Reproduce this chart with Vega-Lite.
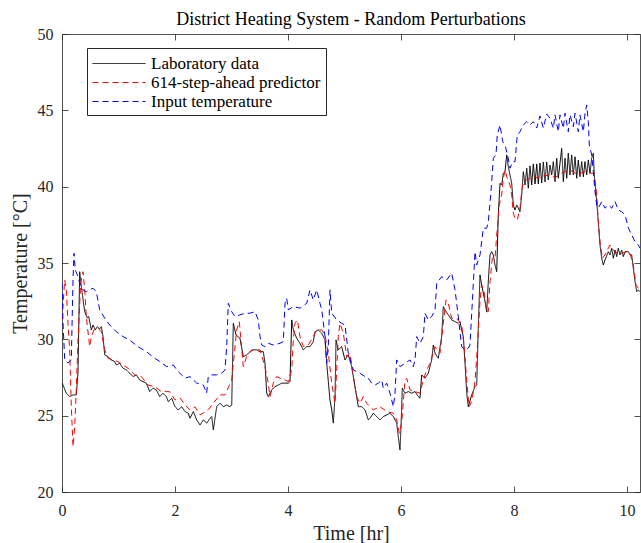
{
"$schema":"https://vega.github.io/schema/vega-lite/v6.json",
"width":578,"height":458,
"autosize":{"type":"none"},
"padding":{"left":62,"top":34,"right":1,"bottom":51},
"background":"white",
"config":{"font":"Liberation Serif","view":{"stroke":null},
 "axis":{"grid":false,"domainColor":"#262626","tickColor":"#262626","labelColor":"#262626","titleColor":"#262626","labelFont":"Liberation Serif","titleFont":"Liberation Serif","titleFontWeight":"normal","labelFontSize":16,"titleFontSize":20,"labelFlush":false,"domainWidth":0.8,"tickWidth":0.8}},
"title":{"text":"District Heating System - Random Perturbations","fontSize":18,"fontWeight":"normal","color":"#000000","font":"Liberation Serif","offset":-3,"anchor":"middle"},
"datasets":{"d":[
{"s":"Laboratory data","t":0,"v":27.14},{"s":"Laboratory data","t":0.018,"v":27.01},{"s":"Laboratory data","t":0.076,"v":26.47},{"s":"Laboratory data","t":0.136,"v":26.25},{"s":"Laboratory data","t":0.195,"v":26.36},{"s":"Laboratory data","t":0.253,"v":26.36},{"s":"Laboratory data","t":0.283,"v":27.8},{"s":"Laboratory data","t":0.313,"v":34.43},{"s":"Laboratory data","t":0.342,"v":33.45},{"s":"Laboratory data","t":0.402,"v":31.81},{"s":"Laboratory data","t":0.448,"v":31.4},{"s":"Laboratory data","t":0.473,"v":31.49},{"s":"Laboratory data","t":0.519,"v":30.62},{"s":"Laboratory data","t":0.549,"v":30.94},{"s":"Laboratory data","t":0.589,"v":30.62},{"s":"Laboratory data","t":0.625,"v":30.83},{"s":"Laboratory data","t":0.667,"v":30.68},{"s":"Laboratory data","t":0.696,"v":30.83},{"s":"Laboratory data","t":0.726,"v":30.18},{"s":"Laboratory data","t":0.756,"v":28.98},{"s":"Laboratory data","t":0.814,"v":28.87},{"s":"Laboratory data","t":0.873,"v":28.65},{"s":"Laboratory data","t":0.933,"v":28.54},{"s":"Laboratory data","t":0.961,"v":28.32},{"s":"Laboratory data","t":1.021,"v":28.43},{"s":"Laboratory data","t":1.08,"v":28.11},{"s":"Laboratory data","t":1.138,"v":28.0},{"s":"Laboratory data","t":1.198,"v":27.78},{"s":"Laboratory data","t":1.257,"v":27.56},{"s":"Laboratory data","t":1.315,"v":27.67},{"s":"Laboratory data","t":1.375,"v":27.34},{"s":"Laboratory data","t":1.434,"v":27.23},{"s":"Laboratory data","t":1.492,"v":27.13},{"s":"Laboratory data","t":1.552,"v":26.58},{"s":"Laboratory data","t":1.611,"v":26.8},{"s":"Laboratory data","t":1.669,"v":26.69},{"s":"Laboratory data","t":1.729,"v":26.25},{"s":"Laboratory data","t":1.788,"v":26.47},{"s":"Laboratory data","t":1.846,"v":26.25},{"s":"Laboratory data","t":1.881,"v":25.92},{"s":"Laboratory data","t":1.942,"v":26.14},{"s":"Laboratory data","t":2.0,"v":25.59},{"s":"Laboratory data","t":2.058,"v":25.38},{"s":"Laboratory data","t":2.119,"v":25.59},{"s":"Laboratory data","t":2.177,"v":25.27},{"s":"Laboratory data","t":2.235,"v":25.16},{"s":"Laboratory data","t":2.266,"v":24.83},{"s":"Laboratory data","t":2.324,"v":25.27},{"s":"Laboratory data","t":2.384,"v":24.72},{"s":"Laboratory data","t":2.443,"v":24.39},{"s":"Laboratory data","t":2.501,"v":24.72},{"s":"Laboratory data","t":2.561,"v":24.51},{"s":"Laboratory data","t":2.62,"v":24.83},{"s":"Laboratory data","t":2.65,"v":24.94},{"s":"Laboratory data","t":2.678,"v":24.07},{"s":"Laboratory data","t":2.738,"v":25.59},{"s":"Laboratory data","t":2.797,"v":25.82},{"s":"Laboratory data","t":2.855,"v":25.59},{"s":"Laboratory data","t":2.915,"v":25.7},{"s":"Laboratory data","t":2.974,"v":25.59},{"s":"Laboratory data","t":3.004,"v":25.7},{"s":"Laboratory data","t":3.032,"v":31.05},{"s":"Laboratory data","t":3.08,"v":30.29},{"s":"Laboratory data","t":3.15,"v":30.07},{"s":"Laboratory data","t":3.209,"v":28.87},{"s":"Laboratory data","t":3.269,"v":28.98},{"s":"Laboratory data","t":3.327,"v":29.19},{"s":"Laboratory data","t":3.386,"v":29.31},{"s":"Laboratory data","t":3.446,"v":29.31},{"s":"Laboratory data","t":3.504,"v":29.19},{"s":"Laboratory data","t":3.563,"v":29.19},{"s":"Laboratory data","t":3.593,"v":28.43},{"s":"Laboratory data","t":3.623,"v":26.47},{"s":"Laboratory data","t":3.651,"v":26.25},{"s":"Laboratory data","t":3.712,"v":26.69},{"s":"Laboratory data","t":3.77,"v":26.9},{"s":"Laboratory data","t":3.828,"v":27.01},{"s":"Laboratory data","t":3.889,"v":27.13},{"s":"Laboratory data","t":3.947,"v":27.13},{"s":"Laboratory data","t":4.005,"v":27.13},{"s":"Laboratory data","t":4.035,"v":27.23},{"s":"Laboratory data","t":4.066,"v":31.27},{"s":"Laboratory data","t":4.094,"v":30.62},{"s":"Laboratory data","t":4.154,"v":30.07},{"s":"Laboratory data","t":4.212,"v":29.74},{"s":"Laboratory data","t":4.271,"v":29.31},{"s":"Laboratory data","t":4.331,"v":29.52},{"s":"Laboratory data","t":4.389,"v":29.52},{"s":"Laboratory data","t":4.448,"v":29.85},{"s":"Laboratory data","t":4.478,"v":30.5},{"s":"Laboratory data","t":4.536,"v":30.62},{"s":"Laboratory data","t":4.597,"v":30.4},{"s":"Laboratory data","t":4.655,"v":29.96},{"s":"Laboratory data","t":4.685,"v":28.43},{"s":"Laboratory data","t":4.743,"v":26.03},{"s":"Laboratory data","t":4.774,"v":25.38},{"s":"Laboratory data","t":4.802,"v":24.51},{"s":"Laboratory data","t":4.832,"v":26.25},{"s":"Laboratory data","t":4.85,"v":29.96},{"s":"Laboratory data","t":4.89,"v":29.31},{"s":"Laboratory data","t":4.95,"v":29.52},{"s":"Laboratory data","t":5.009,"v":28.65},{"s":"Laboratory data","t":5.067,"v":28.98},{"s":"Laboratory data","t":5.127,"v":28.21},{"s":"Laboratory data","t":5.186,"v":26.9},{"s":"Laboratory data","t":5.244,"v":25.59},{"s":"Laboratory data","t":5.304,"v":25.59},{"s":"Laboratory data","t":5.363,"v":25.38},{"s":"Laboratory data","t":5.421,"v":24.72},{"s":"Laboratory data","t":5.451,"v":24.83},{"s":"Laboratory data","t":5.51,"v":25.16},{"s":"Laboratory data","t":5.57,"v":24.94},{"s":"Laboratory data","t":5.628,"v":24.72},{"s":"Laboratory data","t":5.687,"v":24.94},{"s":"Laboratory data","t":5.747,"v":25.05},{"s":"Laboratory data","t":5.805,"v":25.16},{"s":"Laboratory data","t":5.864,"v":24.94},{"s":"Laboratory data","t":5.924,"v":24.51},{"s":"Laboratory data","t":5.952,"v":23.63},{"s":"Laboratory data","t":5.982,"v":22.76},{"s":"Laboratory data","t":6.0,"v":24.28},{"s":"Laboratory data","t":6.023,"v":26.8},{"s":"Laboratory data","t":6.071,"v":26.47},{"s":"Laboratory data","t":6.129,"v":26.58},{"s":"Laboratory data","t":6.189,"v":26.47},{"s":"Laboratory data","t":6.248,"v":26.58},{"s":"Laboratory data","t":6.306,"v":26.25},{"s":"Laboratory data","t":6.336,"v":26.14},{"s":"Laboratory data","t":6.366,"v":27.67},{"s":"Laboratory data","t":6.425,"v":27.45},{"s":"Laboratory data","t":6.483,"v":27.78},{"s":"Laboratory data","t":6.543,"v":28.65},{"s":"Laboratory data","t":6.572,"v":29.63},{"s":"Laboratory data","t":6.602,"v":29.09},{"s":"Laboratory data","t":6.66,"v":28.76},{"s":"Laboratory data","t":6.72,"v":30.18},{"s":"Laboratory data","t":6.749,"v":32.14},{"s":"Laboratory data","t":6.779,"v":31.93},{"s":"Laboratory data","t":6.837,"v":31.6},{"s":"Laboratory data","t":6.897,"v":31.27},{"s":"Laboratory data","t":6.956,"v":31.16},{"s":"Laboratory data","t":7.014,"v":31.05},{"s":"Laboratory data","t":7.044,"v":31.16},{"s":"Laboratory data","t":7.074,"v":30.62},{"s":"Laboratory data","t":7.103,"v":30.18},{"s":"Laboratory data","t":7.133,"v":28.43},{"s":"Laboratory data","t":7.163,"v":26.47},{"s":"Laboratory data","t":7.191,"v":25.59},{"s":"Laboratory data","t":7.251,"v":26.36},{"s":"Laboratory data","t":7.31,"v":26.9},{"s":"Laboratory data","t":7.34,"v":27.01},{"s":"Laboratory data","t":7.368,"v":30.73},{"s":"Laboratory data","t":7.398,"v":34.22},{"s":"Laboratory data","t":7.428,"v":33.56},{"s":"Laboratory data","t":7.487,"v":32.47},{"s":"Laboratory data","t":7.517,"v":31.81},{"s":"Laboratory data","t":7.545,"v":33.78},{"s":"Laboratory data","t":7.575,"v":35.53},{"s":"Laboratory data","t":7.605,"v":35.74},{"s":"Laboratory data","t":7.634,"v":35.53},{"s":"Laboratory data","t":7.664,"v":34.87},{"s":"Laboratory data","t":7.694,"v":34.43},{"s":"Laboratory data","t":7.722,"v":38.15},{"s":"Laboratory data","t":7.752,"v":40.22},{"s":"Laboratory data","t":7.782,"v":40.11},{"s":"Laboratory data","t":7.811,"v":40.88},{"s":"Laboratory data","t":7.841,"v":40.98},{"s":"Laboratory data","t":7.871,"v":42.08},{"s":"Laboratory data","t":7.899,"v":41.31},{"s":"Laboratory data","t":7.929,"v":40.77},{"s":"Laboratory data","t":7.959,"v":40.22},{"s":"Laboratory data","t":7.988,"v":38.8},{"s":"Laboratory data","t":8.018,"v":38.47},{"s":"Laboratory data","t":8.048,"v":38.8},{"s":"Laboratory data","t":8.076,"v":38.59},{"s":"Laboratory data","t":8.106,"v":38.36},{"s":"Laboratory data","t":8.136,"v":39.46},{"s":"Laboratory data","t":8.165,"v":40.98},{"s":"Laboratory data","t":8.195,"v":40.11},{"s":"Laboratory data","t":8.225,"v":41.21},{"s":"Laboratory data","t":8.253,"v":39.9},{"s":"Laboratory data","t":8.283,"v":41.36},{"s":"Laboratory data","t":8.313,"v":40.11},{"s":"Laboratory data","t":8.342,"v":41.49},{"s":"Laboratory data","t":8.372,"v":40.18},{"s":"Laboratory data","t":8.402,"v":41.49},{"s":"Laboratory data","t":8.43,"v":40.18},{"s":"Laboratory data","t":8.46,"v":41.55},{"s":"Laboratory data","t":8.49,"v":40.24},{"s":"Laboratory data","t":8.519,"v":41.62},{"s":"Laboratory data","t":8.549,"v":40.31},{"s":"Laboratory data","t":8.579,"v":41.62},{"s":"Laboratory data","t":8.607,"v":40.44},{"s":"Laboratory data","t":8.637,"v":41.42},{"s":"Laboratory data","t":8.667,"v":40.77},{"s":"Laboratory data","t":8.696,"v":41.64},{"s":"Laboratory data","t":8.726,"v":40.33},{"s":"Laboratory data","t":8.756,"v":41.86},{"s":"Laboratory data","t":8.784,"v":40.55},{"s":"Laboratory data","t":8.844,"v":42.51},{"s":"Laboratory data","t":8.873,"v":40.33},{"s":"Laboratory data","t":8.903,"v":41.86},{"s":"Laboratory data","t":8.933,"v":40.55},{"s":"Laboratory data","t":8.961,"v":42.19},{"s":"Laboratory data","t":8.991,"v":40.77},{"s":"Laboratory data","t":9.021,"v":42.08},{"s":"Laboratory data","t":9.05,"v":40.77},{"s":"Laboratory data","t":9.08,"v":41.96},{"s":"Laboratory data","t":9.11,"v":40.55},{"s":"Laboratory data","t":9.138,"v":41.75},{"s":"Laboratory data","t":9.168,"v":40.65},{"s":"Laboratory data","t":9.198,"v":41.64},{"s":"Laboratory data","t":9.227,"v":40.65},{"s":"Laboratory data","t":9.257,"v":41.64},{"s":"Laboratory data","t":9.287,"v":40.77},{"s":"Laboratory data","t":9.315,"v":41.75},{"s":"Laboratory data","t":9.345,"v":40.88},{"s":"Laboratory data","t":9.375,"v":41.86},{"s":"Laboratory data","t":9.404,"v":42.19},{"s":"Laboratory data","t":9.421,"v":40.77},{"s":"Laboratory data","t":9.464,"v":39.02},{"s":"Laboratory data","t":9.492,"v":37.71},{"s":"Laboratory data","t":9.522,"v":36.18},{"s":"Laboratory data","t":9.552,"v":35.31},{"s":"Laboratory data","t":9.581,"v":34.87},{"s":"Laboratory data","t":9.611,"v":35.2},{"s":"Laboratory data","t":9.669,"v":35.74},{"s":"Laboratory data","t":9.699,"v":35.53},{"s":"Laboratory data","t":9.729,"v":35.97},{"s":"Laboratory data","t":9.758,"v":35.31},{"s":"Laboratory data","t":9.788,"v":35.85},{"s":"Laboratory data","t":9.818,"v":35.42},{"s":"Laboratory data","t":9.846,"v":35.97},{"s":"Laboratory data","t":9.876,"v":35.53},{"s":"Laboratory data","t":9.906,"v":35.85},{"s":"Laboratory data","t":9.935,"v":35.42},{"s":"Laboratory data","t":9.965,"v":35.74},{"s":"Laboratory data","t":10.025,"v":35.74},{"s":"Laboratory data","t":10.053,"v":35.53},{"s":"Laboratory data","t":10.083,"v":35.53},{"s":"Laboratory data","t":10.112,"v":34.66},{"s":"Laboratory data","t":10.142,"v":33.78},{"s":"Laboratory data","t":10.172,"v":33.12},{"s":"Laboratory data","t":10.2,"v":33.24},{"s":"Laboratory data","t":10.23,"v":33.12},
{"s":"614-step-ahead predictor","t":0,"v":31.27},{"s":"614-step-ahead predictor","t":0.048,"v":33.89},{"s":"614-step-ahead predictor","t":0.076,"v":33.24},{"s":"614-step-ahead predictor","t":0.106,"v":31.07},{"s":"614-step-ahead predictor","t":0.136,"v":29.31},{"s":"614-step-ahead predictor","t":0.165,"v":25.59},{"s":"614-step-ahead predictor","t":0.195,"v":22.97},{"s":"614-step-ahead predictor","t":0.225,"v":24.28},{"s":"614-step-ahead predictor","t":0.253,"v":26.69},{"s":"614-step-ahead predictor","t":0.283,"v":29.96},{"s":"614-step-ahead predictor","t":0.331,"v":33.69},{"s":"614-step-ahead predictor","t":0.372,"v":34.43},{"s":"614-step-ahead predictor","t":0.402,"v":33.24},{"s":"614-step-ahead predictor","t":0.43,"v":31.49},{"s":"614-step-ahead predictor","t":0.49,"v":29.52},{"s":"614-step-ahead predictor","t":0.519,"v":30.18},{"s":"614-step-ahead predictor","t":0.566,"v":30.62},{"s":"614-step-ahead predictor","t":0.637,"v":30.73},{"s":"614-step-ahead predictor","t":0.696,"v":30.5},{"s":"614-step-ahead predictor","t":0.756,"v":29.31},{"s":"614-step-ahead predictor","t":0.814,"v":28.76},{"s":"614-step-ahead predictor","t":0.903,"v":28.65},{"s":"614-step-ahead predictor","t":0.991,"v":28.54},{"s":"614-step-ahead predictor","t":1.08,"v":28.32},{"s":"614-step-ahead predictor","t":1.168,"v":28.11},{"s":"614-step-ahead predictor","t":1.287,"v":27.67},{"s":"614-step-ahead predictor","t":1.404,"v":27.56},{"s":"614-step-ahead predictor","t":1.522,"v":27.01},{"s":"614-step-ahead predictor","t":1.641,"v":26.9},{"s":"614-step-ahead predictor","t":1.758,"v":26.58},{"s":"614-step-ahead predictor","t":1.846,"v":26.58},{"s":"614-step-ahead predictor","t":1.912,"v":26.56},{"s":"614-step-ahead predictor","t":2.0,"v":26.03},{"s":"614-step-ahead predictor","t":2.089,"v":26.16},{"s":"614-step-ahead predictor","t":2.177,"v":25.7},{"s":"614-step-ahead predictor","t":2.266,"v":25.38},{"s":"614-step-ahead predictor","t":2.354,"v":25.57},{"s":"614-step-ahead predictor","t":2.443,"v":25.05},{"s":"614-step-ahead predictor","t":2.531,"v":25.24},{"s":"614-step-ahead predictor","t":2.62,"v":25.51},{"s":"614-step-ahead predictor","t":2.673,"v":25.83},{"s":"614-step-ahead predictor","t":2.726,"v":26.03},{"s":"614-step-ahead predictor","t":2.797,"v":26.36},{"s":"614-step-ahead predictor","t":2.885,"v":26.36},{"s":"614-step-ahead predictor","t":3.004,"v":27.34},{"s":"614-step-ahead predictor","t":3.092,"v":30.62},{"s":"614-step-ahead predictor","t":3.138,"v":31.16},{"s":"614-step-ahead predictor","t":3.209,"v":28.21},{"s":"614-step-ahead predictor","t":3.269,"v":28.87},{"s":"614-step-ahead predictor","t":3.358,"v":29.31},{"s":"614-step-ahead predictor","t":3.504,"v":29.31},{"s":"614-step-ahead predictor","t":3.593,"v":28.21},{"s":"614-step-ahead predictor","t":3.651,"v":27.13},{"s":"614-step-ahead predictor","t":3.681,"v":26.25},{"s":"614-step-ahead predictor","t":3.74,"v":27.13},{"s":"614-step-ahead predictor","t":3.8,"v":27.56},{"s":"614-step-ahead predictor","t":3.858,"v":27.45},{"s":"614-step-ahead predictor","t":3.947,"v":27.34},{"s":"614-step-ahead predictor","t":4.005,"v":27.23},{"s":"614-step-ahead predictor","t":4.066,"v":28.0},{"s":"614-step-ahead predictor","t":4.094,"v":29.96},{"s":"614-step-ahead predictor","t":4.124,"v":31.05},{"s":"614-step-ahead predictor","t":4.165,"v":31.27},{"s":"614-step-ahead predictor","t":4.212,"v":30.18},{"s":"614-step-ahead predictor","t":4.271,"v":29.52},{"s":"614-step-ahead predictor","t":4.359,"v":29.63},{"s":"614-step-ahead predictor","t":4.448,"v":30.18},{"s":"614-step-ahead predictor","t":4.508,"v":30.62},{"s":"614-step-ahead predictor","t":4.597,"v":30.62},{"s":"614-step-ahead predictor","t":4.655,"v":30.29},{"s":"614-step-ahead predictor","t":4.713,"v":29.09},{"s":"614-step-ahead predictor","t":4.774,"v":27.13},{"s":"614-step-ahead predictor","t":4.832,"v":25.81},{"s":"614-step-ahead predictor","t":4.862,"v":28.0},{"s":"614-step-ahead predictor","t":4.89,"v":30.18},{"s":"614-step-ahead predictor","t":4.92,"v":31.05},{"s":"614-step-ahead predictor","t":4.979,"v":30.4},{"s":"614-step-ahead predictor","t":5.039,"v":28.87},{"s":"614-step-ahead predictor","t":5.097,"v":29.09},{"s":"614-step-ahead predictor","t":5.156,"v":27.56},{"s":"614-step-ahead predictor","t":5.216,"v":26.25},{"s":"614-step-ahead predictor","t":5.274,"v":25.81},{"s":"614-step-ahead predictor","t":5.333,"v":26.25},{"s":"614-step-ahead predictor","t":5.393,"v":25.81},{"s":"614-step-ahead predictor","t":5.451,"v":25.59},{"s":"614-step-ahead predictor","t":5.51,"v":25.38},{"s":"614-step-ahead predictor","t":5.628,"v":25.59},{"s":"614-step-ahead predictor","t":5.747,"v":25.27},{"s":"614-step-ahead predictor","t":5.864,"v":25.16},{"s":"614-step-ahead predictor","t":5.924,"v":24.72},{"s":"614-step-ahead predictor","t":5.97,"v":23.85},{"s":"614-step-ahead predictor","t":6.012,"v":24.51},{"s":"614-step-ahead predictor","t":6.071,"v":27.34},{"s":"614-step-ahead predictor","t":6.101,"v":27.45},{"s":"614-step-ahead predictor","t":6.159,"v":26.69},{"s":"614-step-ahead predictor","t":6.248,"v":26.58},{"s":"614-step-ahead predictor","t":6.336,"v":26.47},{"s":"614-step-ahead predictor","t":6.395,"v":27.34},{"s":"614-step-ahead predictor","t":6.455,"v":28.0},{"s":"614-step-ahead predictor","t":6.513,"v":28.43},{"s":"614-step-ahead predictor","t":6.602,"v":29.52},{"s":"614-step-ahead predictor","t":6.69,"v":29.09},{"s":"614-step-ahead predictor","t":6.749,"v":31.05},{"s":"614-step-ahead predictor","t":6.797,"v":32.58},{"s":"614-step-ahead predictor","t":6.837,"v":32.36},{"s":"614-step-ahead predictor","t":6.897,"v":31.38},{"s":"614-step-ahead predictor","t":6.986,"v":31.38},{"s":"614-step-ahead predictor","t":7.074,"v":30.94},{"s":"614-step-ahead predictor","t":7.115,"v":29.63},{"s":"614-step-ahead predictor","t":7.163,"v":27.34},{"s":"614-step-ahead predictor","t":7.204,"v":25.59},{"s":"614-step-ahead predictor","t":7.251,"v":25.92},{"s":"614-step-ahead predictor","t":7.31,"v":27.23},{"s":"614-step-ahead predictor","t":7.35,"v":29.42},{"s":"614-step-ahead predictor","t":7.398,"v":32.47},{"s":"614-step-ahead predictor","t":7.428,"v":33.56},{"s":"614-step-ahead predictor","t":7.469,"v":33.12},{"s":"614-step-ahead predictor","t":7.517,"v":31.81},{"s":"614-step-ahead predictor","t":7.545,"v":31.81},{"s":"614-step-ahead predictor","t":7.575,"v":33.78},{"s":"614-step-ahead predictor","t":7.616,"v":35.31},{"s":"614-step-ahead predictor","t":7.664,"v":35.31},{"s":"614-step-ahead predictor","t":7.694,"v":36.84},{"s":"614-step-ahead predictor","t":7.74,"v":38.8},{"s":"614-step-ahead predictor","t":7.782,"v":39.46},{"s":"614-step-ahead predictor","t":7.811,"v":40.55},{"s":"614-step-ahead predictor","t":7.841,"v":41.09},{"s":"614-step-ahead predictor","t":7.871,"v":40.65},{"s":"614-step-ahead predictor","t":7.929,"v":40.11},{"s":"614-step-ahead predictor","t":7.959,"v":39.46},{"s":"614-step-ahead predictor","t":7.988,"v":38.26},{"s":"614-step-ahead predictor","t":8.018,"v":37.93},{"s":"614-step-ahead predictor","t":8.058,"v":37.82},{"s":"614-step-ahead predictor","t":8.106,"v":38.59},{"s":"614-step-ahead predictor","t":8.136,"v":39.67},{"s":"614-step-ahead predictor","t":8.165,"v":40.33},{"s":"614-step-ahead predictor","t":8.225,"v":40.44},{"s":"614-step-ahead predictor","t":8.283,"v":40.55},{"s":"614-step-ahead predictor","t":8.342,"v":40.65},{"s":"614-step-ahead predictor","t":8.425,"v":40.57},{"s":"614-step-ahead predictor","t":8.513,"v":40.7},{"s":"614-step-ahead predictor","t":8.637,"v":40.77},{"s":"614-step-ahead predictor","t":8.72,"v":40.6},{"s":"614-step-ahead predictor","t":8.814,"v":40.77},{"s":"614-step-ahead predictor","t":8.85,"v":40.9},{"s":"614-step-ahead predictor","t":8.903,"v":40.98},{"s":"614-step-ahead predictor","t":8.991,"v":41.09},{"s":"614-step-ahead predictor","t":9.08,"v":40.88},{"s":"614-step-ahead predictor","t":9.168,"v":40.88},{"s":"614-step-ahead predictor","t":9.257,"v":40.98},{"s":"614-step-ahead predictor","t":9.345,"v":40.88},{"s":"614-step-ahead predictor","t":9.404,"v":40.88},{"s":"614-step-ahead predictor","t":9.434,"v":40.33},{"s":"614-step-ahead predictor","t":9.464,"v":39.46},{"s":"614-step-ahead predictor","t":9.492,"v":37.71},{"s":"614-step-ahead predictor","t":9.522,"v":36.4},{"s":"614-step-ahead predictor","t":9.563,"v":35.31},{"s":"614-step-ahead predictor","t":9.611,"v":35.53},{"s":"614-step-ahead predictor","t":9.669,"v":35.97},{"s":"614-step-ahead predictor","t":9.699,"v":36.18},{"s":"614-step-ahead predictor","t":9.729,"v":35.97},{"s":"614-step-ahead predictor","t":9.788,"v":35.74},{"s":"614-step-ahead predictor","t":9.846,"v":35.64},{"s":"614-step-ahead predictor","t":9.906,"v":35.64},{"s":"614-step-ahead predictor","t":9.995,"v":35.74},{"s":"614-step-ahead predictor","t":10.053,"v":35.64},{"s":"614-step-ahead predictor","t":10.112,"v":34.87},{"s":"614-step-ahead predictor","t":10.159,"v":33.56},{"s":"614-step-ahead predictor","t":10.2,"v":33.35},{"s":"614-step-ahead predictor","t":10.23,"v":33.45},
{"s":"Input temperature","t":0,"v":33.69},{"s":"Input temperature","t":0.018,"v":31.07},{"s":"Input temperature","t":0.048,"v":28.65},{"s":"Input temperature","t":0.106,"v":28.45},{"s":"Input temperature","t":0.165,"v":28.65},{"s":"Input temperature","t":0.177,"v":30.83},{"s":"Input temperature","t":0.195,"v":33.89},{"s":"Input temperature","t":0.212,"v":35.64},{"s":"Input temperature","t":0.235,"v":34.54},{"s":"Input temperature","t":0.283,"v":34.11},{"s":"Input temperature","t":0.313,"v":33.67},{"s":"Input temperature","t":0.372,"v":33.24},{"s":"Input temperature","t":0.43,"v":33.12},{"s":"Input temperature","t":0.49,"v":33.24},{"s":"Input temperature","t":0.549,"v":33.35},{"s":"Input temperature","t":0.607,"v":33.12},{"s":"Input temperature","t":0.667,"v":31.93},{"s":"Input temperature","t":0.756,"v":31.38},{"s":"Input temperature","t":0.844,"v":30.94},{"s":"Input temperature","t":0.961,"v":30.5},{"s":"Input temperature","t":1.08,"v":30.18},{"s":"Input temperature","t":1.198,"v":29.96},{"s":"Input temperature","t":1.345,"v":29.52},{"s":"Input temperature","t":1.492,"v":29.19},{"s":"Input temperature","t":1.641,"v":28.76},{"s":"Input temperature","t":1.735,"v":28.54},{"s":"Input temperature","t":1.853,"v":28.21},{"s":"Input temperature","t":1.97,"v":28.32},{"s":"Input temperature","t":2.058,"v":27.88},{"s":"Input temperature","t":2.177,"v":27.45},{"s":"Input temperature","t":2.266,"v":27.56},{"s":"Input temperature","t":2.384,"v":27.13},{"s":"Input temperature","t":2.501,"v":27.01},{"s":"Input temperature","t":2.561,"v":26.47},{"s":"Input temperature","t":2.589,"v":27.56},{"s":"Input temperature","t":2.65,"v":27.67},{"s":"Input temperature","t":2.738,"v":27.67},{"s":"Input temperature","t":2.827,"v":27.78},{"s":"Input temperature","t":2.885,"v":28.0},{"s":"Input temperature","t":2.915,"v":29.52},{"s":"Input temperature","t":2.943,"v":32.36},{"s":"Input temperature","t":3.004,"v":31.81},{"s":"Input temperature","t":3.062,"v":31.49},{"s":"Input temperature","t":3.15,"v":31.6},{"s":"Input temperature","t":3.239,"v":31.71},{"s":"Input temperature","t":3.327,"v":31.71},{"s":"Input temperature","t":3.416,"v":31.81},{"s":"Input temperature","t":3.474,"v":31.27},{"s":"Input temperature","t":3.504,"v":30.18},{"s":"Input temperature","t":3.535,"v":29.63},{"s":"Input temperature","t":3.593,"v":29.52},{"s":"Input temperature","t":3.651,"v":29.74},{"s":"Input temperature","t":3.74,"v":29.63},{"s":"Input temperature","t":3.858,"v":29.74},{"s":"Input temperature","t":3.917,"v":29.85},{"s":"Input temperature","t":3.947,"v":32.36},{"s":"Input temperature","t":3.977,"v":32.69},{"s":"Input temperature","t":4.005,"v":31.93},{"s":"Input temperature","t":4.094,"v":32.14},{"s":"Input temperature","t":4.212,"v":32.04},{"s":"Input temperature","t":4.331,"v":32.36},{"s":"Input temperature","t":4.389,"v":33.24},{"s":"Input temperature","t":4.448,"v":32.58},{"s":"Input temperature","t":4.508,"v":33.24},{"s":"Input temperature","t":4.566,"v":32.36},{"s":"Input temperature","t":4.597,"v":31.93},{"s":"Input temperature","t":4.655,"v":30.18},{"s":"Input temperature","t":4.685,"v":28.43},{"s":"Input temperature","t":4.713,"v":29.52},{"s":"Input temperature","t":4.743,"v":33.24},{"s":"Input temperature","t":4.774,"v":31.71},{"s":"Input temperature","t":4.862,"v":31.27},{"s":"Input temperature","t":4.95,"v":31.05},{"s":"Input temperature","t":5.009,"v":30.94},{"s":"Input temperature","t":5.067,"v":29.09},{"s":"Input temperature","t":5.156,"v":28.0},{"s":"Input temperature","t":5.274,"v":27.78},{"s":"Input temperature","t":5.363,"v":27.56},{"s":"Input temperature","t":5.421,"v":27.45},{"s":"Input temperature","t":5.481,"v":27.13},{"s":"Input temperature","t":5.54,"v":27.01},{"s":"Input temperature","t":5.598,"v":27.13},{"s":"Input temperature","t":5.658,"v":27.34},{"s":"Input temperature","t":5.687,"v":26.8},{"s":"Input temperature","t":5.747,"v":27.13},{"s":"Input temperature","t":5.805,"v":26.47},{"s":"Input temperature","t":5.864,"v":25.59},{"s":"Input temperature","t":5.894,"v":26.47},{"s":"Input temperature","t":5.924,"v":28.65},{"s":"Input temperature","t":5.982,"v":28.21},{"s":"Input temperature","t":6.071,"v":28.43},{"s":"Input temperature","t":6.159,"v":28.65},{"s":"Input temperature","t":6.218,"v":28.21},{"s":"Input temperature","t":6.248,"v":28.65},{"s":"Input temperature","t":6.278,"v":30.18},{"s":"Input temperature","t":6.336,"v":29.74},{"s":"Input temperature","t":6.395,"v":30.18},{"s":"Input temperature","t":6.425,"v":31.71},{"s":"Input temperature","t":6.483,"v":31.27},{"s":"Input temperature","t":6.543,"v":31.49},{"s":"Input temperature","t":6.602,"v":31.93},{"s":"Input temperature","t":6.632,"v":33.67},{"s":"Input temperature","t":6.72,"v":34.1},{"s":"Input temperature","t":6.809,"v":33.89},{"s":"Input temperature","t":6.897,"v":34.33},{"s":"Input temperature","t":6.956,"v":33.24},{"s":"Input temperature","t":7.014,"v":31.49},{"s":"Input temperature","t":7.074,"v":29.52},{"s":"Input temperature","t":7.133,"v":29.31},{"s":"Input temperature","t":7.191,"v":29.42},{"s":"Input temperature","t":7.221,"v":29.63},{"s":"Input temperature","t":7.269,"v":32.91},{"s":"Input temperature","t":7.31,"v":35.74},{"s":"Input temperature","t":7.34,"v":34.87},{"s":"Input temperature","t":7.398,"v":35.53},{"s":"Input temperature","t":7.457,"v":37.28},{"s":"Input temperature","t":7.517,"v":37.28},{"s":"Input temperature","t":7.545,"v":37.71},{"s":"Input temperature","t":7.588,"v":39.46},{"s":"Input temperature","t":7.634,"v":41.86},{"s":"Input temperature","t":7.681,"v":42.08},{"s":"Input temperature","t":7.704,"v":43.39},{"s":"Input temperature","t":7.752,"v":44.04},{"s":"Input temperature","t":7.8,"v":42.95},{"s":"Input temperature","t":7.841,"v":42.73},{"s":"Input temperature","t":7.899,"v":41.86},{"s":"Input temperature","t":7.929,"v":41.21},{"s":"Input temperature","t":7.977,"v":41.64},{"s":"Input temperature","t":8.018,"v":41.64},{"s":"Input temperature","t":8.058,"v":43.39},{"s":"Input temperature","t":8.106,"v":43.6},{"s":"Input temperature","t":8.165,"v":44.04},{"s":"Input temperature","t":8.225,"v":44.26},{"s":"Input temperature","t":8.283,"v":44.04},{"s":"Input temperature","t":8.342,"v":44.26},{"s":"Input temperature","t":8.402,"v":43.84},{"s":"Input temperature","t":8.46,"v":44.63},{"s":"Input temperature","t":8.519,"v":43.84},{"s":"Input temperature","t":8.579,"v":44.76},{"s":"Input temperature","t":8.637,"v":44.48},{"s":"Input temperature","t":8.696,"v":43.82},{"s":"Input temperature","t":8.726,"v":44.7},{"s":"Input temperature","t":8.784,"v":43.6},{"s":"Input temperature","t":8.814,"v":44.7},{"s":"Input temperature","t":8.873,"v":43.82},{"s":"Input temperature","t":8.903,"v":44.81},{"s":"Input temperature","t":8.961,"v":43.6},{"s":"Input temperature","t":8.991,"v":44.7},{"s":"Input temperature","t":9.05,"v":43.93},{"s":"Input temperature","t":9.08,"v":44.81},{"s":"Input temperature","t":9.138,"v":43.6},{"s":"Input temperature","t":9.168,"v":44.7},{"s":"Input temperature","t":9.227,"v":43.6},{"s":"Input temperature","t":9.257,"v":44.81},{"s":"Input temperature","t":9.287,"v":45.35},{"s":"Input temperature","t":9.315,"v":44.26},{"s":"Input temperature","t":9.333,"v":42.73},{"s":"Input temperature","t":9.375,"v":42.08},{"s":"Input temperature","t":9.404,"v":40.98},{"s":"Input temperature","t":9.434,"v":39.67},{"s":"Input temperature","t":9.464,"v":38.8},{"s":"Input temperature","t":9.492,"v":38.59},{"s":"Input temperature","t":9.552,"v":39.02},{"s":"Input temperature","t":9.611,"v":38.59},{"s":"Input temperature","t":9.669,"v":38.8},{"s":"Input temperature","t":9.729,"v":38.59},{"s":"Input temperature","t":9.788,"v":39.02},{"s":"Input temperature","t":9.846,"v":38.47},{"s":"Input temperature","t":9.906,"v":38.36},{"s":"Input temperature","t":9.965,"v":38.15},{"s":"Input temperature","t":10.025,"v":37.28},{"s":"Input temperature","t":10.083,"v":36.84},{"s":"Input temperature","t":10.142,"v":36.4},{"s":"Input temperature","t":10.2,"v":36.18},{"s":"Input temperature","t":10.23,"v":35.97}
]},
"data":{"name":"d"},
"layer":[
{"mark":{"type":"line","strokeWidth":1,"clip":true},
 "encoding":{
  "x":{"field":"t","type":"quantitative","scale":{"domain":[0,10.23],"nice":false,"zero":false},
       "axis":{"title":"Time [hr]","values":[0,2,4,6,8,10],"format":"d","tickSize":-6,"labelPadding":16,"titlePadding":5}},
  "y":{"field":"v","type":"quantitative","scale":{"domain":[20,50],"nice":false,"zero":false},
       "axis":{"title":"Temperature [°C]","values":[20,25,30,35,40,45,50],"tickSize":-6,"labelPadding":15,"titlePadding":7}},
  "color":{"field":"s","type":"nominal","scale":{"domain":["Laboratory data","614-step-ahead predictor","Input temperature"],"range":["#000000","#ff0000","#0000ff"]},
       "legend":{"title":null,"orient":"none","legendX":25,"legendY":14,"labelFontSize":17,"labelLimit":400,"labelColor":"#000000","labelFont":"Liberation Serif","symbolType":"M-1,0H4.3","symbolSize":400,"symbolStrokeWidth":1,"symbolFillColor":"transparent","strokeColor":"#262626","fillColor":"#ffffff","padding":5,"rowPadding":0,"labelOffset":38,
         "encode":{"symbols":{"update":{"stroke":{"signal":"scale('color', datum.value)"},"strokeDash":{"signal":"datum.value === 'Laboratory data' ? [1,0] : [6,4]"}}}}}},
  "strokeDash":{"field":"s","type":"nominal","scale":{"domain":["Laboratory data","614-step-ahead predictor","Input temperature"],"range":[[1,0],[6,4],[6,4]]},"legend":null}
 }},
{"mark":{"type":"point","opacity":0},
 "encoding":{
  "x":{"field":"t","type":"quantitative","axis":{"orient":"top","labels":false,"title":null,"values":[0,2,4,6,8,10],"tickSize":-6}},
  "y":{"field":"v","type":"quantitative","axis":{"orient":"right","labels":false,"title":null,"values":[20,25,30,35,40,45,50],"tickSize":-6}}
 }}
],
"resolve":{"axis":{"x":"independent","y":"independent"}}
}
